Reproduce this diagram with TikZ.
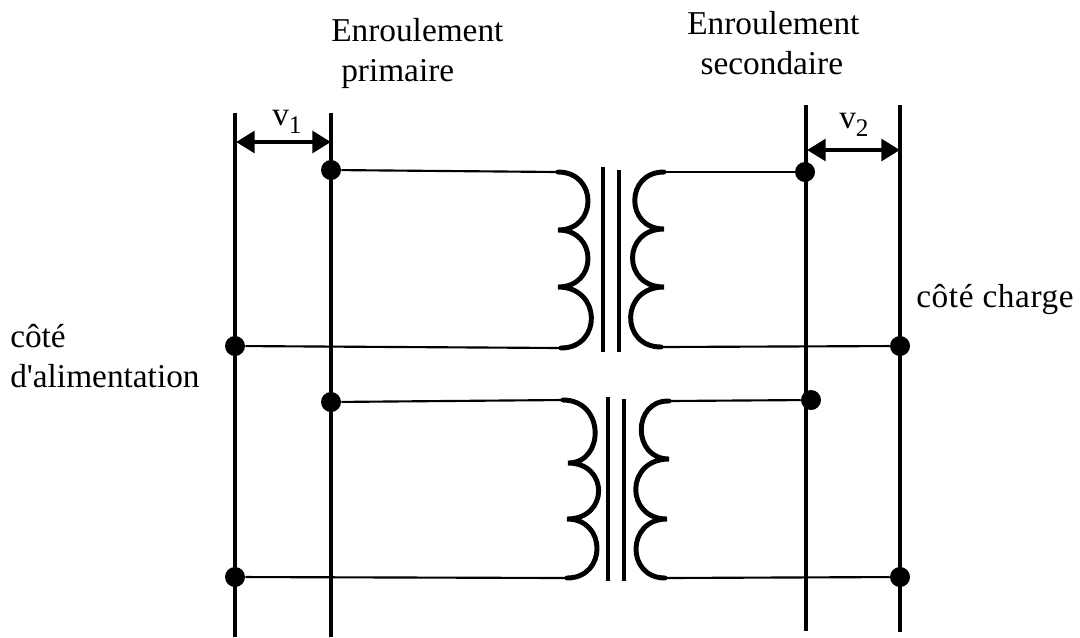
\documentclass[tikz,border=0pt]{standalone}
\usepackage{fontspec}
\setmainfont{Liberation Serif}
\newfontfamily\plainserif{Liberation Serif}
\usetikzlibrary{arrows.meta}
\tikzset{
  rail/.style={line width=3.5pt},
  wire/.style={line width=1.6pt},
  coil/.style={line width=3.7pt,line cap=round},
  core/.style={line width=3.7pt},
  dot/.style={circle,fill=black,inner sep=0pt,minimum size=15pt},
  volt/.style={line width=3.5pt,{Triangle[length=14pt,width=16pt]}-{Triangle[length=14pt,width=16pt]}},
  lab/.style={inner sep=0pt,align=left,anchor=base west,font=\fontsize{25}{30}\selectfont},
}
\newcommand{\subs}[1]{{\fontsize{19}{19}\selectfont\raisebox{-6pt}{#1}}}
\begin{document}
\begin{tikzpicture}[x=0.75pt,y=-0.75pt]
\useasboundingbox (0,0) rectangle (1080,637);
% rails
\coordinate (a1) at (235,113); \coordinate (a2) at (235,637);
\coordinate (b1) at (331,113); \coordinate (b2) at (331,637);
\coordinate (c1) at (806,105); \coordinate (c2) at (806,631);
\coordinate (d1) at (900,105); \coordinate (d2) at (900,632);
\draw[rail] (a1) -- (a2);
\draw[rail] (b1) -- (b2);
\draw[rail] (c1) -- (c2);
\draw[rail] (d1) -- (d2);
% dots
\node[dot] (p1) at (331,170) {};
\node[dot] (n1) at (235,346) {};
\node[dot] (p2) at (331,402) {};
\node[dot] (n2) at (235,577) {};
\node[dot] (s1) at (805,172) {};
\node[dot] (m1) at (900,346) {};
\node[dot] (s2) at (811,400) {};
\node[dot] (m2) at (900,577) {};
% coil terminals
\coordinate (ta) at (558,172); \coordinate (tb) at (561,348);
\coordinate (tc) at (664,172); \coordinate (td) at (661,347);
\coordinate (ba) at (563,400); \coordinate (bb) at (567,578);
\coordinate (bc) at (669,401); \coordinate (bd) at (665,578);
% wires
\draw[wire] (p1) -- (ta);
\draw[wire] (n1) -- (tb);
\draw[wire] (tc) -- (s1);
\draw[wire] (td) -- (m1);
\draw[wire] (p2) -- (ba);
\draw[wire] (n2) -- (bb);
\draw[wire] (bc) -- (s2);
\draw[wire] (bd) -- (m2);
% coils
\draw[coil] (ta) .. controls (598,172) and (598,230) .. (558,230)
  .. controls (598,230) and (598,287) .. (558,287)
  .. controls (602,287) and (602,348) .. (tb);
\draw[coil] (tc) .. controls (625,172) and (625,229) .. (664,229)
  .. controls (622,229) and (622,287) .. (664,287)
  .. controls (620,287) and (620,347) .. (td);
\draw[coil] (ba) .. controls (605,400) and (605,463) .. (568,463)
  .. controls (609,463) and (609,519) .. (567,519)
  .. controls (607,519) and (607,578) .. (bb);
\draw[coil] (bc) .. controls (632,400) and (632,459) .. (669,459)
  .. controls (625,459) and (625,519) .. (667,519)
  .. controls (626,519) and (626,578) .. (bd);
% cores
\coordinate (k1) at (603,167); \coordinate (k2) at (603,352);
\coordinate (k3) at (619,170); \coordinate (k4) at (619,352);
\coordinate (k5) at (608,397); \coordinate (k6) at (608,581);
\coordinate (k7) at (624,399); \coordinate (k8) at (624,581);
\draw[core] (k1) -- (k2);
\draw[core] (k3) -- (k4);
\draw[core] (k5) -- (k6);
\draw[core] (k7) -- (k8);
% voltage arrows
\coordinate (v1a) at (236,142); \coordinate (v1b) at (331,142);
\coordinate (v2a) at (807,150); \coordinate (v2b) at (900,150);
\draw[volt] (v1a) -- (v1b);
\draw[volt] (v2a) -- (v2b);
% labels
\node[lab] (lv1) at (272,125) {v\subs{1}};
\node[lab] (lv2) at (839,128) {v\subs{2}};
\node[lab] (l1) at (331,81) {Enroulement\\\hspace*{7.5pt}primaire};
\node[lab] (l2) at (687,74) {Enroulement\\\hspace*{10pt}secondaire};
\node[lab,font=\fontsize{25}{30}\plainserif] (l3) at (10,387) {côté\\d'alimentation};
\node[lab] (l4) at (916,307) {\addfontfeature{LetterSpace=1.8}côté charge};
\end{tikzpicture}
\end{document}
